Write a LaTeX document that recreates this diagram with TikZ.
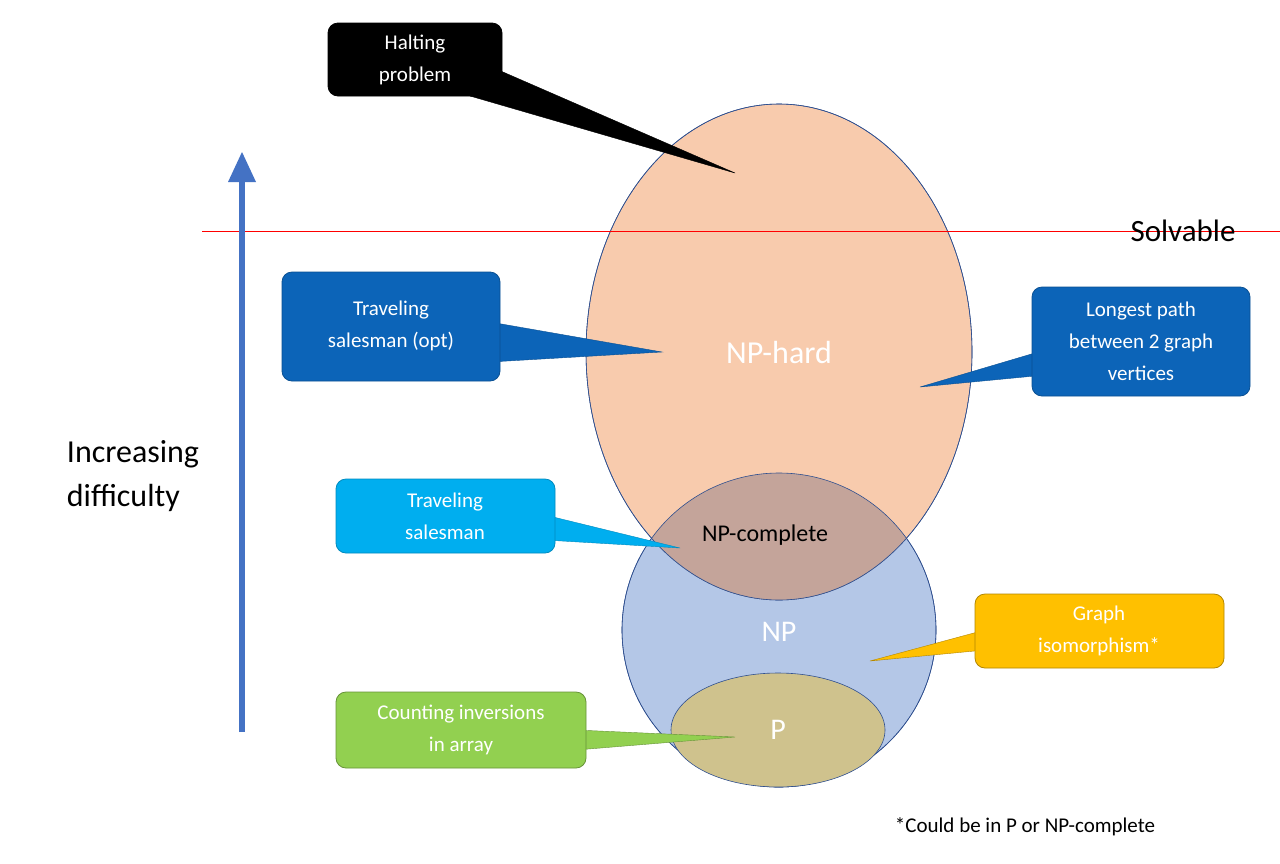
\documentclass[tikz,border=0pt]{standalone}
\usepackage{fontspec}
\setmainfont{Carlito}
\definecolor{hardc}{HTML}{F8CBAD}
\definecolor{npc}{HTML}{B4C7E7}
\definecolor{compc}{HTML}{C4A49A}
\definecolor{pc}{HTML}{CFC28D}
\definecolor{edgec}{HTML}{2F4F8F}
\definecolor{dblue}{HTML}{0C64B8}
\definecolor{lblue}{HTML}{00AEEF}
\definecolor{yel}{HTML}{FFC000}
\definecolor{grn}{HTML}{92D050}
\definecolor{arr}{HTML}{4472C4}
\begin{document}
\begin{tikzpicture}[x=1pt,y=-1pt,
  callout/.style={rounded corners=10pt, line width=0.8pt, align=center, text=white, font=\fontsize{21}{32}\selectfont, inner sep=0pt},
  lbl/.style={text=white, font=\fontsize{32}{36}\selectfont}]
\useasboundingbox (0,0) rectangle (1280,863);
\fill[white] (0,0) rectangle (1280,863);
% sets
\draw[fill=npc, draw=edgec, line width=0.6pt] (779,630) ellipse [x radius=157, y radius=157];
\draw[fill=hardc, draw=edgec, line width=0.6pt] (779,352) ellipse [x radius=193, y radius=248];
\begin{scope}
  \clip (779,630) ellipse [x radius=157, y radius=157];
  \fill[compc] (779,352) ellipse [x radius=193, y radius=248];
\end{scope}
\draw[edgec, line width=0.6pt] (779,630) ellipse [x radius=157, y radius=157];
\draw[edgec, line width=0.6pt] (779,352) ellipse [x radius=193, y radius=248];
\draw[fill=pc, draw=edgec, line width=0.6pt] (778,730) ellipse [x radius=107, y radius=57];
\node[lbl] (hard) at (779,352) {NP-hard};
\node[font=\fontsize{24}{28}\selectfont] (comp) at (765,535) {NP-complete};
\node[lbl, font=\fontsize{30}{34}\selectfont] (np) at (779,632) {NP};
\node[lbl, font=\fontsize{30}{34}\selectfont] (p) at (778,730) {P};
% solvable line
\coordinate (la) at (202,231); \coordinate (lb) at (1280,231);
\draw[red, line width=0.6pt] (la) -- (lb);
\node[font=\fontsize{31}{34}\selectfont] (solv) at (1183,231) {Solvable};
% arrow
\coordinate (a1) at (242,732); \coordinate (a2) at (242,152);
\draw[arr, line width=6pt] (242,732) -- (242,180);
\fill[arr] (228,182) -- (256,182) -- (a2) -- cycle;
\node[align=left, font=\fontsize{32}{44}\selectfont] (inc) at (133,476) {Increasing\\difficulty};
% callouts
\filldraw[fill=black, draw=black] (480,62) -- (735,173) -- (470,96) -- cycle;
\draw[callout, fill=black, draw=black] (328,23) rectangle (502,96);
\node[callout] (halt) at (415,60) {Halting\\problem};

\filldraw[fill=dblue, draw=dblue!80!black] (490,322) -- (662,352) -- (490,362) -- cycle;
\draw[callout, fill=dblue, draw=dblue!80!black] (282,272) rectangle (500,381);
\node[callout] (tso) at (391,326) {Traveling\\salesman (opt)};

\filldraw[fill=dblue, draw=dblue!80!black] (1045,350) -- (920,387) -- (1045,375) -- cycle;
\draw[callout, fill=dblue, draw=dblue!80!black] (1032,287) rectangle (1250,396);
\node[callout] (lp) at (1141,341) {Longest path\\between 2 graph\\vertices};

\filldraw[fill=lblue, draw=lblue!80!black] (545,515) -- (680,548) -- (545,540) -- cycle;
\draw[callout, fill=lblue, draw=lblue!80!black] (336,479) rectangle (555,553);
\node[callout] (ts) at (445,516) {Traveling\\salesman};

\filldraw[fill=yel, draw=yel!70!black] (985,630) -- (870,661) -- (985,650) -- cycle;
\draw[callout, fill=yel, draw=yel!70!black] (975,594) rectangle (1224,668);
\node[callout] (gi) at (1099,631) {Graph\\isomorphism*};

\filldraw[fill=grn, draw=grn!70!black] (576,730) -- (735,737) -- (576,750) -- cycle;
\draw[callout, fill=grn, draw=grn!70!black] (336,692) rectangle (586,768);
\node[callout] (ci) at (461,730) {Counting inversions\\in array};

\node[font=\fontsize{21}{24}\selectfont] (foot) at (1025,827) {*Could be in P or NP-complete};
\end{tikzpicture}
\end{document}
